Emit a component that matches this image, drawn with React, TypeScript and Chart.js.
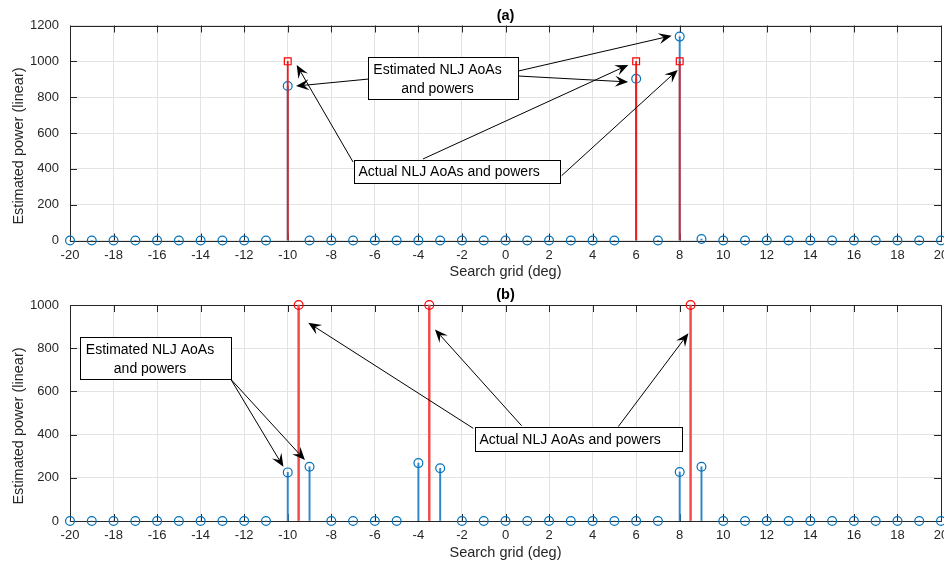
import React, { useEffect, useRef } from "react";
import { Chart, registerables } from "chart.js";

Chart.register(...registerables);

// ---------------- data ----------------
const gridDeg = [
  -20, -19, -18, -17, -16, -15, -14, -13, -12, -11, -10, -9, -8, -7, -6, -5, -4, -3, -2, -1, 0,
  1, 2, 3, 4, 5, 6, 7, 8, 9, 10, 11, 12, 13, 14, 15, 16, 17, 18, 19, 20,
];
const estPowerA = [
  0, 0, 0, 0, 0, 0, 0, 0, 0, 0, 862, 0, 0, 0, 0, 0, 0, 0, 0, 0, 0,
  0, 0, 0, 0, 0, 903, 0, 1138, 8, 0, 0, 0, 0, 0, 0, 0, 0, 0, 0, 0,
];
const actualDegA = [-10, 6, 8];
const actualPowerA = [1000, 1000, 1000];

const estPowerB = [
  0, 0, 0, 0, 0, 0, 0, 0, 0, 0, 225, 251, 0, 0, 0, 0, 268, 244, 0, 0, 0,
  0, 0, 0, 0, 0, 0, 0, 227, 251, 0, 0, 0, 0, 0, 0, 0, 0, 0, 0, 0,
];
const actualDegB = [-9.5, -3.5, 8.5];
const actualPowerB = [1000, 1000, 1000];

const xTicks = [-20, -18, -16, -14, -12, -10, -8, -6, -4, -2, 0, 2, 4, 6, 8, 10, 12, 14, 16, 18, 20];
const yTicksA = [0, 200, 400, 600, 800, 1000, 1200];
const yTicksB = [0, 200, 400, 600, 800, 1000];

const titleA = "(a)";
const titleB = "(b)";
const xTitle = "Search grid (deg)";
const yTitle = "Estimated power (linear)";
const estText = ["Estimated NLJ AoAs", "and powers"];
const actText = ["Actual NLJ AoAs and powers"];

// annotation boxes [xLeft, xRight, yTop, yBottom] and arrows [xTail, yTail, xHead, yHead] in data units
const estBoxA = [-6.3, 0.59, 1022, 788];
const estArrowsA = [
  [-6.3, 901, -9.62, 862],
  [0.59, 946, 7.63, 1143],
  [0.59, 918, 5.63, 885],
];
const actBoxA = [-6.94, 2.5, 449, 319];
const actArrowsA = [
  [-7.0, 438, -9.59, 980],
  [-3.79, 455, 5.64, 980],
  [2.58, 362, 7.91, 952],
];
const estBoxB = [-19.54, -12.62, 853, 657];
const estArrowsB = [
  [-12.62, 657, -10.2, 251],
  [-12.62, 657, -9.21, 282],
];
const actBoxB = [-1.4, 8.09, 437, 324];
const actArrowsB = [
  [-1.48, 429, -9.06, 918],
  [0.74, 441, -3.24, 887],
  [5.18, 437, 8.4, 869],
];

// ---------------- style ----------------
const FONT = "'Liberation Sans', Arial, Helvetica, sans-serif";
const AX = "#262626";
const GRID = "#e3e3e3";
const BLUE = "#0072BD";
const BLUE_STEM = "#2f86ca";
const RED = "#FF0000";
const RED_STEM = "#ee1c1c";

function drawArrow(ctx: CanvasRenderingContext2D, x0: number, y0: number, x1: number, y1: number) {
  const dx = x1 - x0;
  const dy = y1 - y0;
  const len = Math.hypot(dx, dy) || 1;
  const ux = dx / len;
  const uy = dy / len;
  const nx = -uy;
  const ny = ux;
  const L = 13;
  const W = 5.5;
  const N = 8;
  const bx = x1 - ux * L;
  const by = y1 - uy * L;
  const mx = x1 - ux * N;
  const my = y1 - uy * N;
  ctx.beginPath();
  ctx.moveTo(x0, y0);
  ctx.lineTo(mx, my);
  ctx.lineWidth = 1;
  ctx.strokeStyle = "#000";
  ctx.stroke();
  ctx.beginPath();
  ctx.moveTo(x1, y1);
  ctx.lineTo(bx + nx * W, by + ny * W);
  ctx.lineTo(mx, my);
  ctx.lineTo(bx - nx * W, by - ny * W);
  ctx.closePath();
  ctx.fillStyle = "#000";
  ctx.fill();
}

const decorPlugin = {
  id: "decor",
  beforeDatasetsDraw(chart: any, _args: any, opts: any) {
    const { ctx, chartArea: a, scales } = chart;
    const x = scales.x;
    const y = scales.y;
    const TL = 7;
    ctx.save();
    ctx.strokeStyle = AX;
    ctx.lineWidth = 1;
    ctx.beginPath();
    for (const v of opts.xTicks) {
      const px = Math.round(x.getPixelForValue(v)) + 0.5;
      ctx.moveTo(px, a.bottom);
      ctx.lineTo(px, a.bottom - TL);
      ctx.moveTo(px, a.top);
      ctx.lineTo(px, a.top + TL);
    }
    for (const v of opts.yTicks) {
      const py = Math.round(y.getPixelForValue(v)) + 0.5;
      ctx.moveTo(a.left, py);
      ctx.lineTo(a.left + TL, py);
      ctx.moveTo(a.right, py);
      ctx.lineTo(a.right - TL, py);
    }
    ctx.stroke();
    const l = Math.round(a.left) + 0.5;
    const t = Math.round(a.top) + 0.5;
    const r = Math.round(a.right) + 0.5;
    const b = Math.round(a.bottom) + 0.5;
    ctx.strokeRect(l, t, r - l, b - t);
    ctx.restore();
  },
  afterDraw(chart: any, _args: any, opts: any) {
    const { ctx, chartArea: a, scales } = chart;
    const x = scales.x;
    const y = scales.y;
    ctx.save();
    // titles
    ctx.fillStyle = "#000";
    ctx.textAlign = "center";
    ctx.textBaseline = "middle";
    ctx.font = `bold 14.5px ${FONT}`;
    ctx.fillText(opts.title, (a.left + a.right) / 2, a.top - 10);
    ctx.fillStyle = AX;
    ctx.font = `14.5px ${FONT}`;
    ctx.fillText(opts.xTitle, (a.left + a.right) / 2, a.bottom + 31.5);
    ctx.save();
    ctx.translate(18.5, (a.top + a.bottom) / 2 + 13);
    ctx.rotate(-Math.PI / 2);
    ctx.fillText(opts.yTitle, 0, 0);
    ctx.restore();

    // annotation boxes
    for (const bx of opts.boxes) {
      const [xl, xr, yt, yb] = bx.rect;
      const L = Math.round(x.getPixelForValue(xl)) + 0.5;
      const R = Math.round(x.getPixelForValue(xr)) + 0.5;
      const T = Math.round(y.getPixelForValue(yt)) + 0.5;
      const B = Math.round(y.getPixelForValue(yb)) + 0.5;
      ctx.fillStyle = "#fff";
      ctx.fillRect(L, T, R - L, B - T);
      ctx.strokeStyle = "#000";
      ctx.lineWidth = 1;
      ctx.strokeRect(L, T, R - L, B - T);
      ctx.fillStyle = "#000";
      ctx.font = `14px ${FONT}`;
      ctx.textBaseline = "middle";
      if (bx.lines.length > 1) {
        ctx.textAlign = "center";
        bx.lines.forEach((s: string, i: number) => {
          ctx.fillText(s, (L + R) / 2 - 6, T + 12.7 + i * 18.5);
        });
      } else {
        ctx.textAlign = "left";
        ctx.fillText(bx.lines[0], L + 4, (T + B) / 2 + 0.5);
      }
    }
    // arrows
    for (const ar of opts.arrows) {
      const [xt, yt, xh, yh] = ar;
      drawArrow(ctx, x.getPixelForValue(xt), y.getPixelForValue(yt), x.getPixelForValue(xh), y.getPixelForValue(yh));
    }
    ctx.restore();
  },
};

function makeConfig(p: any) {
  const est = gridDeg.map((d, i) => ({ x: d, y: p.est[i] }));
  const act = p.actDeg.map((d: number, i: number) => ({ x: d, y: p.actPow[i] }));
  return {
    type: "scatter",
    data: {
      datasets: [
        {
          type: "bar",
          data: est,
          backgroundColor: BLUE_STEM,
          borderWidth: 0,
          barThickness: 1.3,
          grouped: false,
          order: 3,
          clip: false,
        },
        {
          type: "scatter",
          data: est,
          pointStyle: "circle",
          pointRadius: 4.4,
          pointBorderWidth: 1.2,
          pointBorderColor: BLUE,
          pointBackgroundColor: "rgba(0,0,0,0)",
          order: 2,
          clip: false,
        },
        {
          type: "bar",
          data: act,
          backgroundColor: p.redStem,
          borderWidth: 0,
          barThickness: p.redThick,
          grouped: false,
          order: 1,
          clip: false,
        },
        {
          type: "scatter",
          data: act,
          pointStyle: p.actStyle,
          pointRadius: p.actStyle === "rect" ? 4.8 : 4.4,
          pointBorderWidth: 1.2,
          pointBorderColor: RED,
          pointBackgroundColor: "rgba(0,0,0,0)",
          order: 0,
          clip: false,
        },
      ],
    },
    options: {
      responsive: false,
      animation: false,
      events: [],
      layout: { padding: { top: p.top, right: 19, left: 0, bottom: 0 } },
      plugins: {
        legend: { display: false },
        tooltip: { enabled: false },
        title: { display: false },
        decor: {
          xTicks,
          yTicks: p.yTicks,
          title: p.title,
          xTitle,
          yTitle,
          boxes: p.boxes,
          arrows: p.arrows,
        },
      },
      scales: {
        x: {
          type: "linear",
          min: -20,
          max: 20,
          offset: false,
          afterBuildTicks: (s: any) => {
            s.ticks = xTicks.map((v) => ({ value: v }));
          },
          afterFit: (s: any) => {
            s.height = p.xh;
            s.paddingLeft = 0;
            s.paddingRight = 0;
          },
          grid: { color: GRID, drawTicks: false, offset: false, lineWidth: 1 },
          border: { display: false },
          ticks: {
            autoSkip: false,
            maxRotation: 0,
            minRotation: 0,
            padding: 7,
            color: AX,
            font: { family: FONT, size: 13 },
            callback: (v: any) => String(v),
          },
        },
        y: {
          type: "linear",
          min: 0,
          max: p.yMax,
          afterBuildTicks: (s: any) => {
            s.ticks = p.yTicks.map((v: number) => ({ value: v }));
          },
          afterFit: (s: any) => {
            s.width = 70;
          },
          grid: { color: GRID, drawTicks: false, lineWidth: 1 },
          border: { display: false },
          ticks: {
            padding: 11,
            color: AX,
            font: { family: FONT, size: 13 },
            callback: (v: any) => String(v),
          },
        },
      },
    },
    plugins: [decorPlugin],
  };
}

function StemChart(props: { params: any; height: number }) {
  const ref = useRef<HTMLCanvasElement | null>(null);
  useEffect(() => {
    if (!ref.current) return;
    const chart = new Chart(ref.current, makeConfig(props.params) as any);
    return () => chart.destroy();
  }, []);
  return <canvas ref={ref} width={960} height={props.height} style={{ display: "block" }} />;
}

export default function App() {
  const paramsA = {
    est: estPowerA,
    actDeg: actualDegA,
    actPow: actualPowerA,
    actStyle: "rect",
    redStem: RED_STEM,
    redThick: 1.2,
    yMax: 1200,
    yTicks: yTicksA,
    title: titleA,
    top: 25.5,
    xh: 39.5,
    boxes: [
      { rect: estBoxA, lines: estText },
      { rect: actBoxA, lines: actText },
    ],
    arrows: [...estArrowsA, ...actArrowsA],
  };
  const paramsB = {
    est: estPowerB,
    actDeg: actualDegB,
    actPow: actualPowerB,
    actStyle: "circle",
    redStem: "#f24a4a",
    redThick: 1.8,
    yMax: 1000,
    yTicks: yTicksB,
    title: titleB,
    top: 25,
    xh: 41,
    boxes: [
      { rect: estBoxB, lines: estText },
      { rect: actBoxB, lines: actText },
    ],
    arrows: [...estArrowsB, ...actArrowsB],
  };
  return (
    <div
      style={{
        position: "fixed",
        left: 0,
        top: 0,
        width: 944,
        height: 562,
        overflow: "hidden",
        background: "#fff",
      }}
    >
      <StemChart params={paramsA} height={280} />
      <StemChart params={paramsB} height={282} />
    </div>
  );
}
